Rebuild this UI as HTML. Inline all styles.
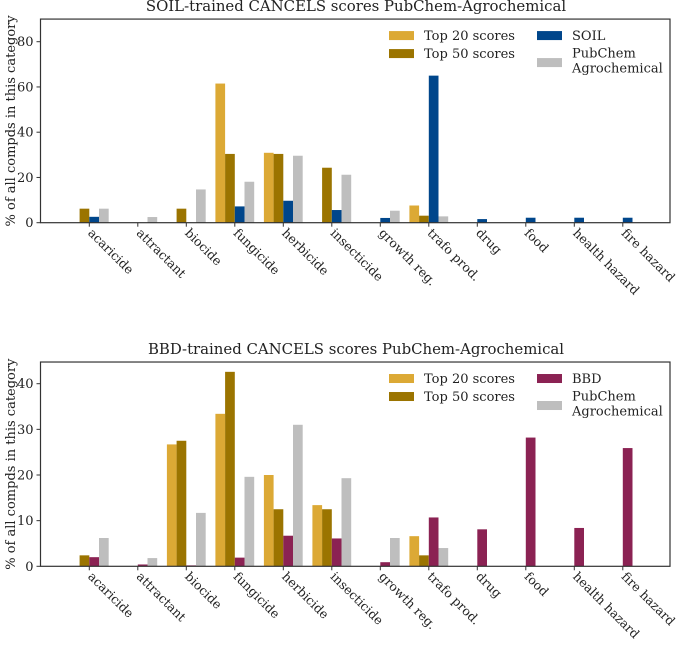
<!DOCTYPE html>
<html><head><meta charset="utf-8"><style>
body{margin:0;background:#fff}
svg text{font-family:"DejaVu Serif","Liberation Serif",serif;fill:#222}
</style></head><body>
<svg id="c" width="679" height="644" xmlns="http://www.w3.org/2000/svg"></svg>
<script>
const categories=["acaricide","attractant","biocide","fungicide","herbicide","insecticide","growth reg.","trafo prod.","drug","food","health hazard","fire hazard"];
const soilTop20=[0,0,0,61.5,30.9,0,0,7.6,0,0,0,0];
const soilTop50=[6.2,0,6.2,30.4,30.4,24.3,0,3.1,0,0,0,0];
const soilRef=[2.6,0,0,7.2,9.7,5.6,2.1,65,1.6,2.2,2.2,2.2];
const soilPub=[6.2,2.5,14.7,18.1,29.6,21.2,5.3,2.8,0,0,0,0];
const bbdTop20=[0,0,26.7,33.4,20.0,13.4,0,6.6,0,0,0,0];
const bbdTop50=[2.4,0,27.5,42.6,12.5,12.5,0,2.4,0,0,0,0];
const bbdRef=[2.0,0.4,0.2,1.9,6.7,6.1,0.9,10.7,8.1,28.2,8.4,25.9];
const bbdPub=[6.2,1.8,11.7,19.6,31.0,19.3,6.2,4.0,0,0,0,0];
const soilTicks=[0,20,40,60,80];
const bbdTicks=[0,10,20,30,40];

const svg=document.getElementById('c');
const NS='http://www.w3.org/2000/svg';
function mk(tag,attrs,parent){const e=document.createElementNS(NS,tag);for(const k in attrs)e.setAttribute(k,attrs[k]);(parent||svg).appendChild(e);return e;}
const C={t20:'#dca935',t50:'#9b7400',pub:'#bebebe'};
const L=40.5,R=670;
function xPos(i){return 89.3+48.5*i;}
function panel(cfg){
  const g=mk('g',{});
  
  
  const y=v=>cfg.y0-v*cfg.k;
  const top=y(cfg.ymax);
  const t=mk('text',{x:356,y:top-8,'text-anchor':'middle','font-size':'14.9'},g);
  t.textContent=cfg.title;
  
  
  const bw=9.7;
  const series=[[cfg.a,C.t20,-2],[cfg.b,C.t50,-1],[cfg.r,cfg.rc,0],[cfg.p,C.pub,1]];
  series.forEach(([arr,col,off],si)=>{
    arr.forEach((v,i)=>{
      if(v<=0)return;
      const rct=mk('rect',{x:xPos(i)+off*bw,y:y(v),width:bw,height:v*cfg.k,fill:col},g);
      
      
    });
  });
  const fr=mk('rect',{x:L,y:top,width:R-L,height:cfg.y0-top,fill:'none',stroke:'#333','stroke-width':1.2},g);
  
  
  cfg.ticks.forEach(v=>{
    mk('line',{x1:L-4,x2:L,y1:y(v),y2:y(v),stroke:'#333'},g);
    const tt=mk('text',{x:L-7,y:y(v)+4.5,'text-anchor':'end','font-size':'13'},g);
    tt.textContent=v;
    
    
  });
  categories.forEach((c,i)=>{
    mk('line',{x1:xPos(i),x2:xPos(i),y1:cfg.y0,y2:cfg.y0+4,stroke:'#333'},g);
    const tl=mk('text',{x:0,y:0,'font-size':'12.5',transform:`translate(${xPos(i)-2},${cfg.y0+11}) rotate(45)`},g);
    tl.textContent=c;
    
    
  });
  const yl=mk('text',{x:0,y:0,'text-anchor':'middle','font-size':'13','textLength':'0',transform:`translate(15,${(top+cfg.y0)/2}) rotate(-90)`},g);
  yl.removeAttribute('textLength');
  yl.textContent='% of all compds in this category';
  
  
  const ly=top+16.5;
  const items=[[389,ly,C.t20,'Top 20 scores'],[389,ly+18,C.t50,'Top 50 scores'],[537,ly,cfg.rc,cfg.rlabel],[537,ly+27,C.pub,null]];
  items.forEach(([lx,yy,col,txt])=>{
    const sw=mk('rect',{x:lx,y:yy-4.5,width:25,height:9,fill:col},g);
    
    
    if(txt){const lt=mk('text',{x:lx+35,y:yy+4.5,'font-size':'13'},g);lt.textContent=txt;}
  });
  const p1=mk('text',{x:572,y:ly+22,'font-size':'13'},g);p1.textContent='PubChem';
  
  
  const p2=mk('text',{x:572,y:ly+37,'font-size':'13'},g);p2.textContent='Agrochemical';
  
  
}
panel({name:'soil-chart',title:'SOIL-trained CANCELS scores PubChem-Agrochemical',y0:222.7,k:2.2625,ymax:90,ticks:soilTicks,a:soilTop20,b:soilTop50,r:soilRef,p:soilPub,rc:'#00468b',rname:'soil',rlabel:'SOIL'});
panel({name:'bbd-chart',title:'BBD-trained CANCELS scores PubChem-Agrochemical',y0:566.3,k:4.565,ymax:44.75,ticks:bbdTicks,a:bbdTop20,b:bbdTop50,r:bbdRef,p:bbdPub,rc:'#8b2253',rname:'bbd',rlabel:'BBD'});
</script>
</body></html>
